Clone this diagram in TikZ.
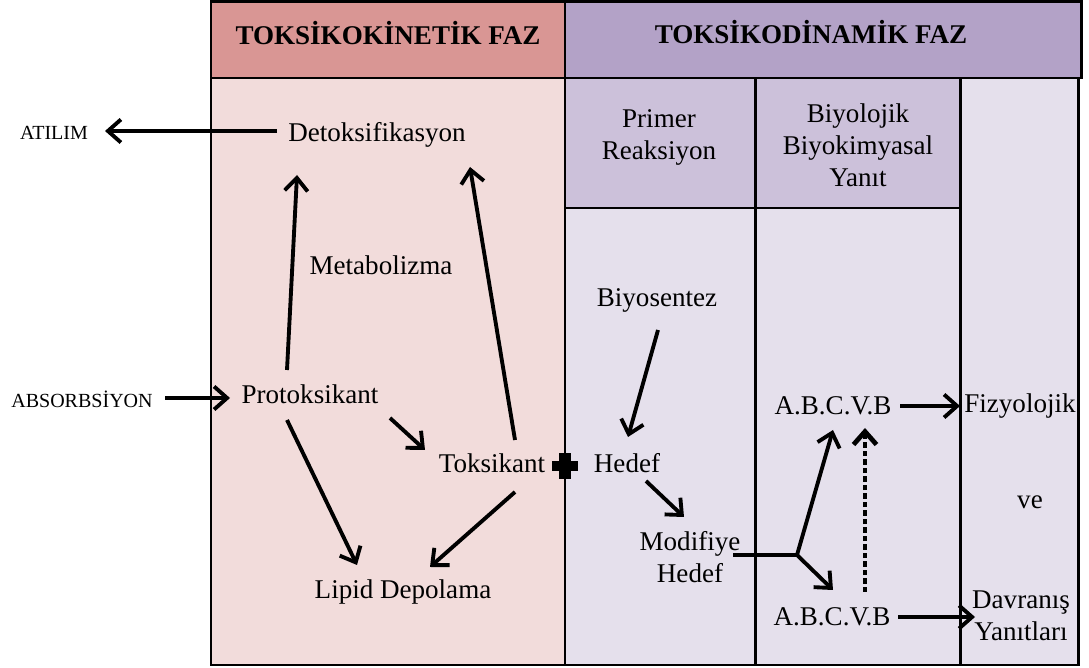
\documentclass[tikz,border=0pt]{standalone}
\usepackage{fontspec}
\setmainfont{Liberation Serif}
\usetikzlibrary{arrows.meta, calc}

\definecolor{kinhead}{HTML}{D99694}
\definecolor{kinbody}{HTML}{F2DCDB}
\definecolor{dinhead}{HTML}{B3A2C7}
\definecolor{dinsub}{HTML}{CCC1DA}
\definecolor{dinbody}{HTML}{E5E0EC}

\begin{document}
\begin{tikzpicture}[x=0.02cm, y=-0.02cm,
  every node/.style={font=\fontsize{15.4}{18.2}\selectfont, inner sep=1pt},
  caps/.style={font=\fontsize{11.4}{13}\selectfont},
  head/.style={font=\fontsize{15.4}{18.2}\selectfont\bfseries},
  box/.style={draw, line width=1.7pt},
  arr/.style={line width=2.2pt, -{Straight Barb[length=2.6mm,width=4.6mm]}},
  dots/.style={arr, line width=2.7pt, dash pattern=on 1.1mm off 0.6mm}]

\useasboundingbox (0,0) rectangle (1089,668);

% Panels
\filldraw[box, fill=kinbody] (211,78) rectangle (565,665);
\filldraw[box, fill=dinbody] (565,78) rectangle (755,665);
\filldraw[box, fill=dinbody] (755,78) rectangle (960,665);
\filldraw[box, fill=dinbody] (960,78) rectangle (1078,665);
\filldraw[box, fill=dinsub] (565,78) rectangle (755,208);
\filldraw[box, fill=dinsub] (755,78) rectangle (960,208);
\filldraw[box, fill=kinhead] (211,2) rectangle (565,78);
\filldraw[box, fill=dinhead] (565,2) rectangle (1081,78);

% Headers
\node[head] (kinetik) at (388,33) {TOKSİKOKİNETİK FAZ};
\node[head] (dinamik) at (811,32) {TOKSİKODİNAMİK FAZ};
\node[align=center] (primer) at (659,137) {Primer\\Reaksiyon};
\node[align=center] (biyol) at (858,145) {Biyolojik\\Biyokimyasal\\Yanıt};

% Nodes
\node[caps] (atilim) at (54,133) {ATILIM};
\node[caps] (absorb) at (82,399) {ABSORBSİYON};
\node (detox) at (377,135) {Detoksifikasyon};
\node (metab) at (381,265) {Metabolizma};
\node (proto) at (310,394) {Protoksikant};
\node (toks) at (492,463) {Toksikant};
\node (lipid) at (403,592) {Lipid Depolama};
\node (biyos) at (657,300) {Biyosentez};
\node (hedef) at (627,463) {Hedef};
\node[align=center] (modif) at (690,557) {Modifiye\\Hedef};
\node (abcv1) at (833,406) {A.B.C.V.B};
\node (abcv2) at (832,617) {A.B.C.V.B};
\node (fizyo) at (1020,406) {Fizyolojik};
\node (ve) at (1030,502) {ve};
\node[align=center] (davr) at (1021,616) {Davranış\\Yanıtları};
\coordinate (junc) at (797,555);

% Plus sign
\fill (552,461) rectangle (578,471);
\fill (559,453) rectangle (571,479);

% Arrows
\draw[arr] ($(detox)+(-100,-4)$) -- ($(atilim)+(51,-2)$);
\draw[arr] ($(absorb)+(83,-1)$) -- ($(proto)+(-80,4)$);
\draw[arr] ($(proto)+(-23,-24)$) -- ($(detox)+(-80,40)$);
\draw[arr] ($(toks)+(23,-23)$) -- ($(detox)+(93,32)$);
\draw[arr] ($(proto)+(80,24)$) -- ($(toks)+(-67,-13)$);
\draw[arr] ($(proto)+(-23,26)$) -- ($(lipid)+(-46,-27)$);
\draw[arr] ($(toks)+(23,29)$) -- ($(lipid)+(27,-25)$);
\draw[arr] ($(biyos)+(1,30)$) -- ($(hedef)+(1,-26)$);
\draw[arr] ($(hedef)+(19,18)$) -- ($(modif)+(-6,-40)$);
\draw[line width=2.2pt] ($(modif)+(43,-2)$) -- (junc);
\draw[arr] (junc) -- ($(abcv1)+(0,24)$);
\draw[arr] (junc) -- ($(abcv2)+(1,-27)$);
\draw[dots] ($(abcv2)+(33,-25)$) -- ($(abcv1)+(32,22)$);
\draw[arr] ($(abcv1)+(67,0)$) -- ($(fizyo)+(-60,0)$);
\draw[arr] ($(abcv2)+(66,0)$) -- ($(davr)+(-46,1)$);

\end{tikzpicture}
\end{document}
